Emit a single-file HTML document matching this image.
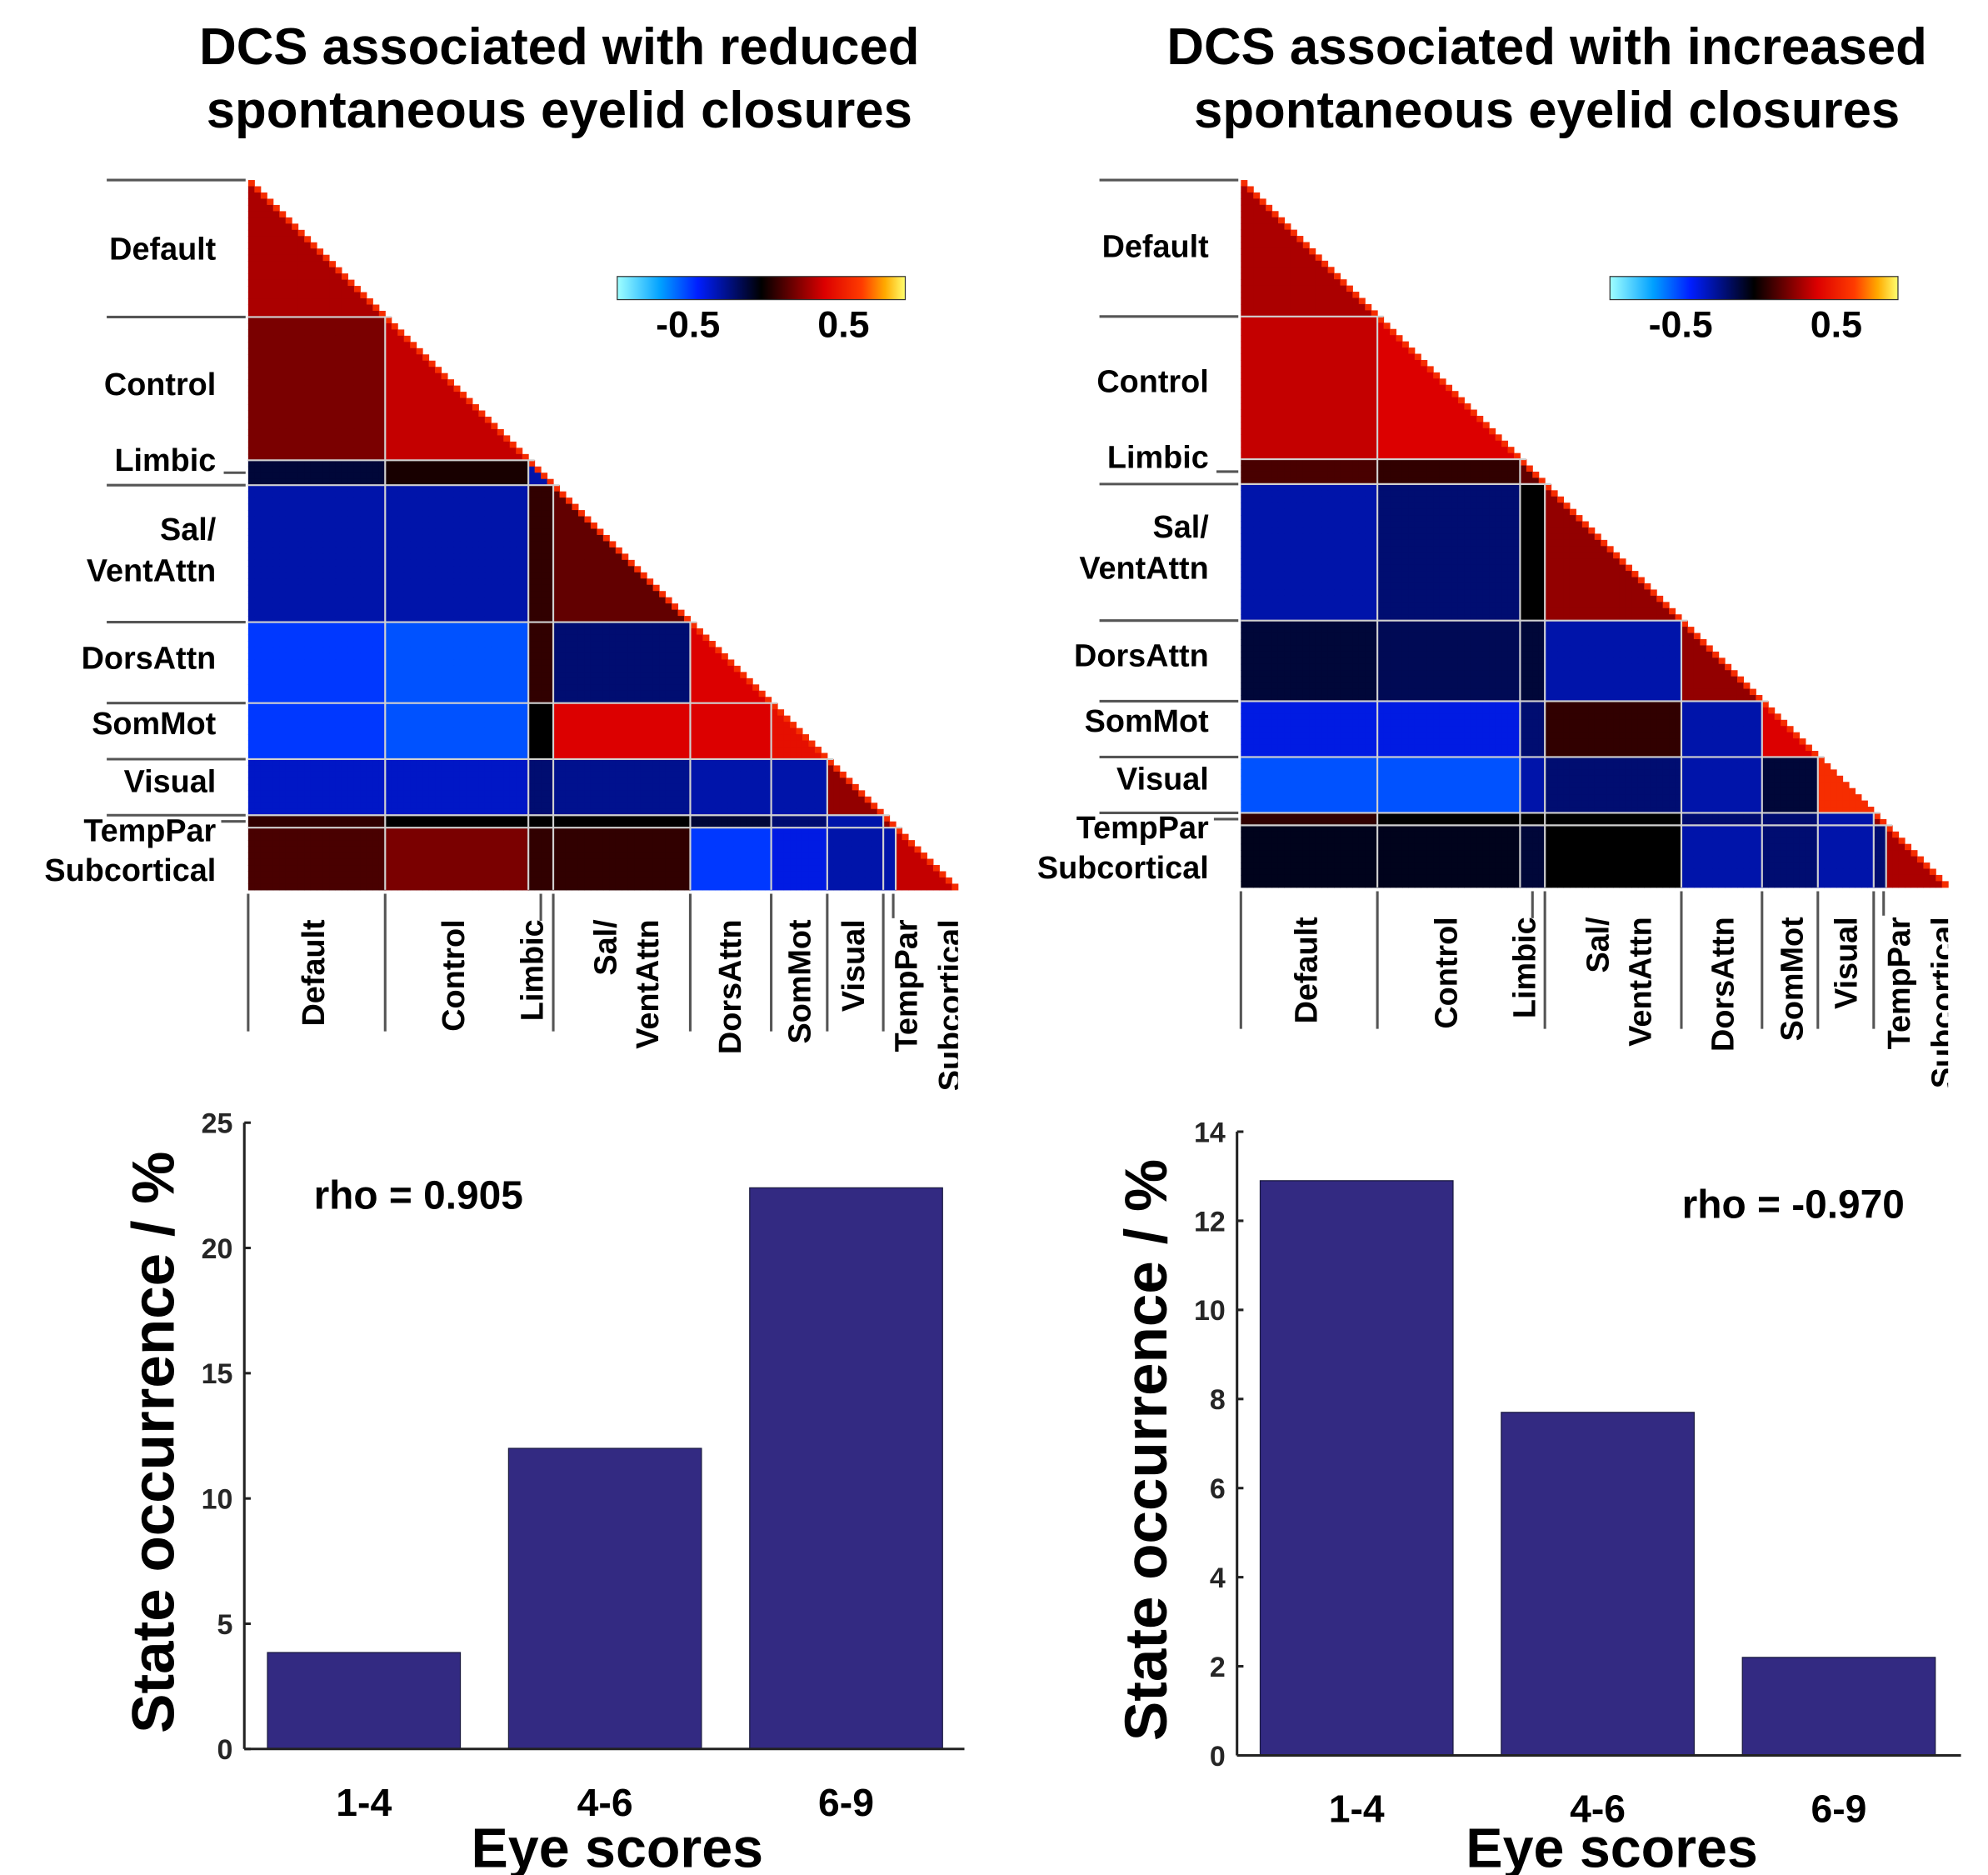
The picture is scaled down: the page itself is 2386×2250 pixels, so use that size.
<!DOCTYPE html>
<html><head><meta charset="utf-8"><style>
html,body{margin:0;padding:0;background:#fff}
svg{display:block}
text{font-family:"Liberation Sans",Arial,sans-serif;font-weight:bold}
</style></head><body>
<svg id="fig" width="2386" height="2250" viewBox="0 0 1546 1458" preserveAspectRatio="none">
<defs>
<linearGradient id="cmap" x1="0" x2="1" y1="0" y2="0">
<stop offset="0" stop-color="#a0ffff"/><stop offset="0.15" stop-color="#00a0ff"/><stop offset="0.28" stop-color="#001eff"/><stop offset="0.5" stop-color="#000000"/><stop offset="0.72" stop-color="#dc0000"/><stop offset="0.85" stop-color="#ff3c00"/><stop offset="0.93" stop-color="#ffaa00"/><stop offset="1" stop-color="#ffff70"/>
</linearGradient>
</defs>
<text x="435" y="50" text-anchor="middle" font-size="40">DCS associated with reduced</text>
<text x="435" y="99" text-anchor="middle" font-size="40">spontaneous eyelid closures</text>
<text x="1203" y="50" text-anchor="middle" font-size="40">DCS associated with increased</text>
<text x="1203" y="99" text-anchor="middle" font-size="40">spontaneous eyelid closures</text>
<g id="hmL"></g>
<g id="hmR"></g>
<g id="barL"></g>
<g id="barR"></g>
</svg>
<script>
const networks = ["Default","Control","Limbic","Sal/VentAttn","DorsAttn","SomMot","Visual","TempPar","Subcortical"];
const nodeCounts = [22,23,4,22,13,9,9,2,10];
const blockMeansLeft = [
 [0.35],
 [0.25,0.4],
 [-0.1,0.05,-0.3],
 [-0.3,-0.3,0.1,0.2],
 [-0.5,-0.55,0.1,-0.2,0.45],
 [-0.5,-0.55,0.0,0.45,0.45,0.5],
 [-0.35,-0.35,-0.2,-0.25,-0.3,-0.3,0.3],
 [0.1,0.0,0.0,0.0,-0.1,-0.2,-0.3,0.3],
 [0.15,0.25,0.1,0.1,-0.5,-0.4,-0.3,-0.3,0.4]
];
const blockMeansRight = [
 [0.35],
 [0.4,0.45],
 [0.15,0.1,0.2],
 [-0.3,-0.2,0.0,0.3],
 [-0.1,-0.15,-0.1,-0.3,0.3],
 [-0.4,-0.4,-0.2,0.1,-0.3,0.45],
 [-0.55,-0.55,-0.3,-0.2,-0.3,-0.1,0.6],
 [0.1,0.0,0.0,0.0,-0.2,-0.2,-0.3,0.3],
 [-0.05,-0.05,-0.1,0.0,-0.3,-0.2,-0.3,-0.2,0.35]
];
const diagValue = 0.6;
const barCategories = ["1-4","4-6","6-9"];
const barValuesLeft = [3.85,12.0,22.4];
const barValuesRight = [12.9,7.7,2.2];
const yTicksLeft = [0,5,10,15,20,25];
const yTicksRight = [0,2,4,6,8,10,12,14];

const NS="http://www.w3.org/2000/svg";
function el(tag,attrs,parent,txt){const e=document.createElementNS(NS,tag);for(const k in attrs)e.setAttribute(k,attrs[k]);if(txt!==undefined)e.textContent=txt;parent.appendChild(e);return e;}
const stops=[[-0.93,[160,255,255]],[-0.7,[0,160,255]],[-0.45,[0,30,255]],[0,[0,0,0]],[0.45,[220,0,0]],[0.65,[255,60,0]],[0.8,[255,170,0]],[0.93,[255,255,112]]];
function cmap(v){v=Math.max(-0.93,Math.min(0.93,v));for(let i=0;i<stops.length-1;i++){const a=stops[i],b=stops[i+1];if(v<=b[0]){const t=(v-a[0])/(b[0]-a[0]);const c=a[1].map((x,k)=>Math.round(x+(b[1][k]-x)*t));return `rgb(${c[0]},${c[1]},${c[2]})`;}}return "rgb(255,255,112)";}

function heatmap(g,means,x0,y0,size,lab){
  const N=nodeCounts.reduce((a,b)=>a+b,0);const cs=size/N;
  const netOf=[];nodeCounts.forEach((c,k)=>{for(let i=0;i<c;i++)netOf.push(k);});
  const starts=[];let s=0;nodeCounts.forEach(c=>{starts.push(s);s+=c;});starts.push(N);
  for(let i=0;i<N;i++)for(let j=0;j<=i;j++){
    const v=(i===j)?diagValue:means[netOf[i]][netOf[j]];
    const r=el('rect',{x:x0+j*cs,y:y0+i*cs,width:cs+0.35,height:cs+0.35,fill:cmap(v)},g);
    
    
  }
  for(let k=1;k<nodeCounts.length;k++){
    const p=starts[k]*cs;
    const h=el('line',{x1:x0,x2:x0+p+cs,y1:y0+p,y2:y0+p,stroke:'#d0d0d0','stroke-width':1.4},g);
    
    
    const v=el('line',{x1:x0+p,x2:x0+p,y1:y0+p,y2:y0+size,stroke:'#d0d0d0','stroke-width':1.4},g);
    
    
  }
  const cbx=x0+287, cbw=224;
  const cb=el('rect',{x:cbx,y:215,width:cbw,height:18,fill:'url(#cmap)',stroke:'#333','stroke-width':0.8},g);
  
  
  const t1=el('text',{x:cbx+55,y:262,'font-size':29,'text-anchor':'middle'},g,'-0.5');
  
  
  const t2=el('text',{x:cbx+176,y:262,'font-size':29,'text-anchor':'middle'},g,'0.5');
  
  
  const lx=x0-110;
  [0,1,3,4,5,6,7].forEach(k=>{const y=y0+starts[k]*cs;const l=el('line',{x1:lx,x2:x0-2,y1:y,y2:y,stroke:'#555','stroke-width':2},g);});
  {const y=y0+(starts[2]+2)*cs;const l=el('line',{x1:x0-19,x2:x0-2,y1:y,y2:y,stroke:'#555','stroke-width':2},g);}
  {const y=y0+(starts[7]+1)*cs;const l=el('line',{x1:x0-21,x2:x0-2,y1:y,y2:y,stroke:'#555','stroke-width':2},g);}
  lab.forEach(L=>{const t=el('text',{x:x0-25,y:L[1],'font-size':24.5,'text-anchor':'end'},g,L[0]);});
  [0,1,3,4,5,6,7].forEach(k=>{const x=x0+starts[k]*cs;const l=el('line',{x1:x,x2:x,y1:y0+size+3,y2:y0+size+110,stroke:'#555','stroke-width':2},g);});
  {const x=x0+(starts[2]+2)*cs;const l=el('line',{x1:x,x2:x,y1:y0+size+3,y2:y0+size+24,stroke:'#555','stroke-width':2},g);}
  {const x=x0+(starts[7]+1.6)*cs;const l=el('line',{x1:x,x2:x,y1:y0+size+3,y2:y0+size+22,stroke:'#555','stroke-width':2},g);}
  const cols=[["Default",50],["Control",159],["Limbic",220],["Sal/",277],["VentAttn",310],["DorsAttn",374],["SomMot",428],["Visual",470],["TempPar",511],["Subcortical",545]];
  const cl=document.createElementNS(NS,'clipPath');cl.setAttribute('id','clip'+x0);g.appendChild(cl);
  el('rect',{x:x0-10,y:y0+size,width:size+10,height:200},cl);
  const cg=el('g',{'clip-path':`url(#clip${x0})`},g);
  cols.forEach(c=>{const x=x0+c[1]+9,y=y0+size+23;const t=el('text',{x:x,y:y,'font-size':24.5,'text-anchor':'end',transform:`rotate(-90 ${x} ${y})`},cg,c[0]);});
}
const labL=[["Default",202],["Control",307],["Limbic",366],["Sal/",420],["VentAttn",452],["DorsAttn",520],["SomMot",571],["Visual",616],["TempPar",654],["Subcortical",685]];
heatmap(document.getElementById('hmL'),blockMeansLeft,193,140,552,labL);
heatmap(document.getElementById('hmR'),blockMeansRight,965,140,550,labL.map(l=>[l[0],l[1]-2]));

function bars(g,vals,ticks,ax,yTop,yBot,xEnd,ymax,rho,rhoX){
  const yS=v=>yBot-(v/ymax)*(yBot-yTop);
  const bw=150, gap=37.5, startX=ax+18;
  vals.forEach((v,i)=>{const x=startX+i*(bw+gap);const r=el('rect',{x:x,y:yS(v),width:bw,height:yBot-yS(v),fill:'#332a82',stroke:'#1a1a40','stroke-width':0.8},g);
    const t=el('text',{x:x+bw/2,y:yBot+52,'font-size':30,'text-anchor':'middle'},g,barCategories[i]);});
  const a1=el('line',{x1:ax,x2:ax,y1:yTop,y2:yBot,stroke:'#222','stroke-width':2},g);
  const a2=el('line',{x1:ax,x2:xEnd,y1:yBot,y2:yBot,stroke:'#222','stroke-width':2},g);
  ticks.forEach(v=>{const y=yS(v);el('line',{x1:ax,x2:ax+5,y1:y,y2:y,stroke:'#222','stroke-width':2},g);const t=el('text',{x:ax-9,y:y+8,'font-size':22,'text-anchor':'end',fill:'#262626'},g,String(v));});
  const cy=(yTop+yBot)/2+5, tx=ax-55;
  const yt=el('text',{x:tx,y:cy,'font-size':46,'text-anchor':'middle',transform:`rotate(-90 ${tx} ${cy})`},g,'State occurrence / %');
  const xt=el('text',{x:ax+(xEnd-ax)/2+10,y:1452,'font-size':43,'text-anchor':'middle'},g,'Eye scores');
  const rt=el('text',{x:rhoX,y:yTop+67,'font-size':31},g,rho);
}
bars(document.getElementById('barL'),barValuesLeft,yTicksLeft,190,873,1360,750,25,'rho = 0.905',244);
bars(document.getElementById('barR'),barValuesRight,yTicksRight,962,880,1365,1525,14,'rho = -0.970',1308);
</script>
</body></html>
